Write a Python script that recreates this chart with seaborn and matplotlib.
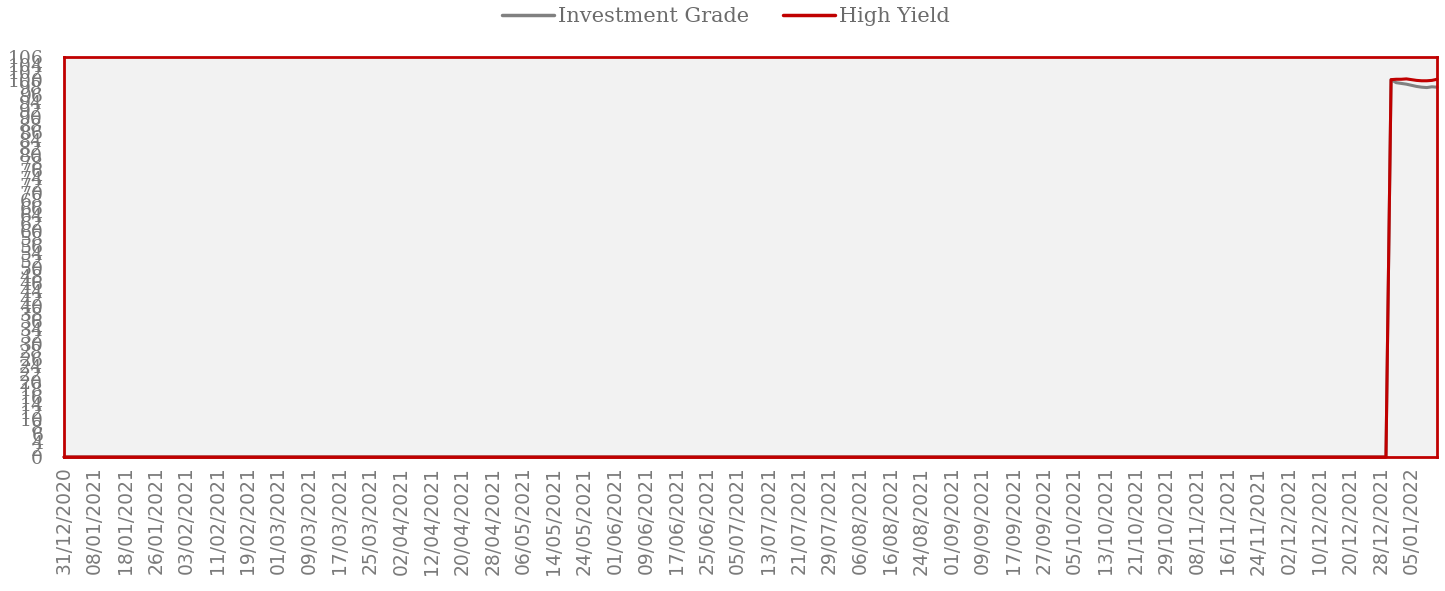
import matplotlib
matplotlib.use("Agg")
import matplotlib.pyplot as plt
import seaborn as sns
import pandas as pd
import numpy as np

# ---- data ----
dates = pd.bdate_range("2020-12-31", "2022-01-12")
date_labels = [d.strftime("%d/%m/%Y") for d in dates]

investment_grade = [0.0] * 260 + [100.0, 99.2, 99.0, 98.8, 98.5, 98.2, 98.0, 97.9, 98.1, 98.0]
high_yield = [0.0] * 260 + [100.0, 100.1, 100.1, 100.2, 100.0, 99.8, 99.7, 99.7, 99.8, 100.1]

y_ticks = list(range(0, 107, 2))
x_tick_step = 6

df = pd.DataFrame({
    "idx": list(range(len(dates))) * 2,
    "value": investment_grade + high_yield,
    "series": ["Investment Grade"] * len(dates) + ["High Yield"] * len(dates),
})

sns.set_style("white")
plt.rcParams["font.family"] = ["DejaVu Sans"]

fig = plt.figure(figsize=(14.45, 5.91), dpi=100)
ax = fig.add_axes([64 / 1445, 1 - 457 / 591, (1437 - 64) / 1445, (457 - 57) / 591])
ax.set_facecolor("#F2F2F2")

palette = {"Investment Grade": "#808080", "High Yield": "#C00000"}
sns.lineplot(data=df, x="idx", y="value", hue="series", palette=palette,
             hue_order=["Investment Grade", "High Yield"], linewidth=2.2, ax=ax,
             legend=False)
for l in ax.lines:
    l.set_clip_on(False)

ax.set_xlim(0, len(dates) - 1)
ax.set_ylim(0, 106)
ax.set_yticks(y_ticks)
ax.set_yticklabels([str(v) for v in y_ticks], fontsize=13.5, color="#767676",
                   family="DejaVu Serif")
xt = list(range(0, len(dates), x_tick_step))
ax.set_xticks(xt)
ax.set_xticklabels([date_labels[i] for i in xt], rotation=90, fontsize=13.5,
                   color="#7a7a7a")
ax.tick_params(axis="y", length=0, pad=15)
ax.tick_params(axis="x", length=0, pad=7)
ax.set_xlabel("")
ax.set_ylabel("")
for s in ax.spines.values():
    s.set_color("#C00000")
    s.set_linewidth(2)
    s.set_visible(True)

from matplotlib.lines import Line2D
handles = [Line2D([], [], color="#808080", lw=2.5), Line2D([], [], color="#C00000", lw=2.5)]
leg = fig.legend(handles, ["Investment Grade", "High Yield"], loc="center",
                 bbox_to_anchor=(726 / 1445, 1 - 17 / 591), ncol=2, frameon=False,
                 prop={"family": "DejaVu Serif", "size": 15}, handlelength=2.5,
                 handletextpad=0.2, columnspacing=1.6)
for t in leg.get_texts():
    t.set_color("#6b6b6b")

fig.savefig("out.png", dpi=100)
